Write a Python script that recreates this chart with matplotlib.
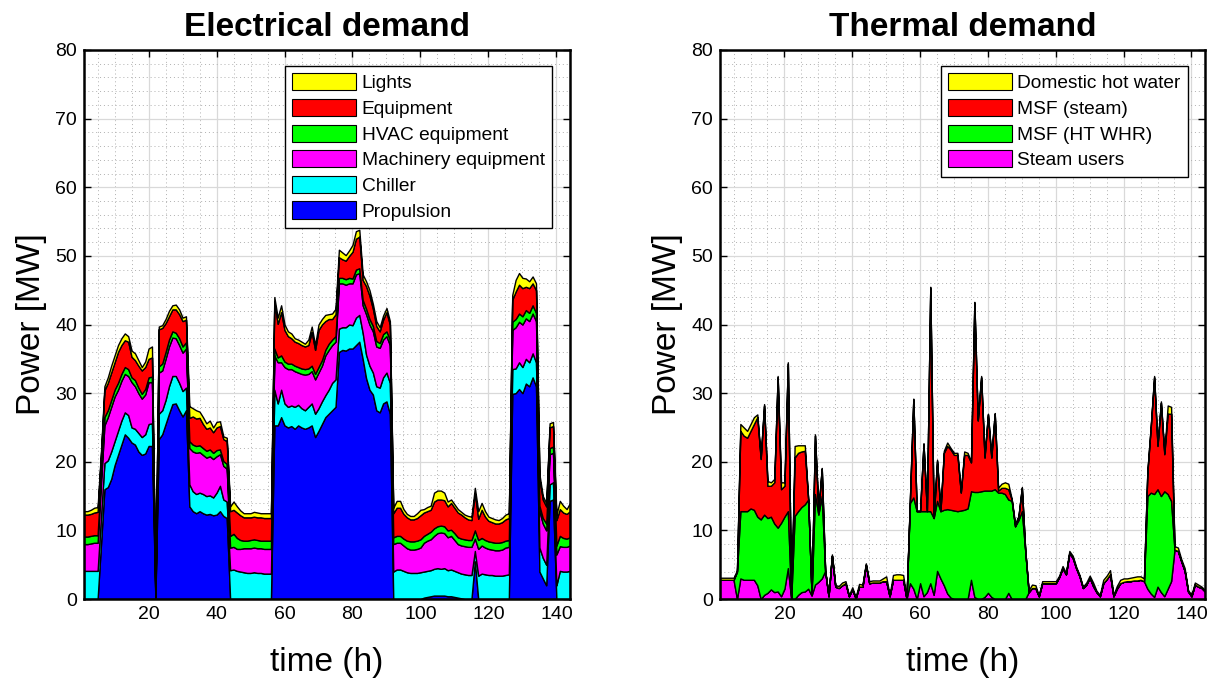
import numpy as np
import matplotlib
matplotlib.use('Agg')
import matplotlib.pyplot as plt
from matplotlib.ticker import MultipleLocator
from matplotlib.patches import Patch

plt.rcParams['font.family'] = ['Liberation Sans', 'DejaVu Sans']

hours = np.arange(1, 145)

# ---------------- Electrical demand: stacked levels (MW) ----------------
elec_propulsion_top = [
    0, 0, 0, 0, 0,
    8, 16, 16.3, 17.5, 19.5,  21, 22.5, 24, 23.5, 22.8,  22.5, 21.5, 21, 21.2, 22.3,
    22.3, 0, 23.3, 24, 25.5,  27, 28.4, 28.5, 27.5, 26.6,  27.5, 13.5, 12.8, 12.5, 12.8,
    12.5, 12.3, 12.4, 12.2, 12.3,  12.8, 12.1, 11.8, 0, 0,  0, 0, 0, 0, 0,
    0, 0, 0, 0, 0,  0, 25.3, 25.3, 26.5, 25.3,  25.0, 25.2, 24.8, 25.3, 25.0,
    24.8, 25.0, 25.3, 23.6, 24.5,  25.5, 26.5, 27.0, 27.5, 28,  36.0, 36.3, 36.2, 36.5, 36.5,
    37.0, 37.5, 35.0, 32.2, 30.5,  29.8, 27.5, 27.2, 28.5, 28.8,  27.0, 0, 0, 0, 0,
    0, 0, 0, 0, 0,  0.2, 0.3, 0.4, 0.5, 0.5,  0.5, 0.5, 0.4, 0.4, 0.3,
    0.2, 0.1, 0, 0, 0,  5.5, 0, 0, 0, 0,  0, 0, 0, 0, 0,
    0, 29.9, 30.0, 30.6, 30.0,  31.4, 31.0, 32.3, 31.0, 4.0,  3.0, 2.0, 14.3, 14.5, 0,
    0, 0, 0, 0]
elec_chiller_top = [
    4.1, 4.1, 4.1, 4.1, 4.1,
    12, 19.8, 20.2, 21.5, 23,  24.5, 26, 27.2, 26.8, 25.0,  24.8, 24.2, 23.6, 24, 25.5,
    25.6, 0.3, 27, 27.5, 29,  31, 32.5, 32.5, 31.5, 30.3,  30.8, 16.7, 15.7, 15.3, 15.5,
    15.3, 15.0, 15.1, 14.8, 15.5,  16.5, 14.5, 14.2, 4.2, 4.3,  4.1, 4.0, 3.9, 3.8, 3.8,
    3.9, 3.8, 3.8, 3.7, 3.7,  3.7, 30.5, 28.5, 30.5, 28.5,  28.0, 28.2, 28.0, 28.3, 27.8,
    27.5, 28.0, 28.5, 27.0, 27.8,  28.8, 29.7, 30.5, 31.5, 32,  39.4, 39.6, 39.6, 40.0, 39.9,
    41.0, 41.4, 38.8, 35.6, 34.0,  33.0, 31.0, 30.8, 32.3, 33.0,  31.5, 4.0, 4.3, 4.3, 4.1,
    3.9, 3.8, 3.8, 3.8, 3.9,  4.0, 4.1, 4.2, 4.4, 4.5,  4.4, 4.5, 4.2, 4.3, 4.1,
    3.9, 3.7, 3.6, 3.5, 3.5,  7.0, 3.4, 3.7, 3.6, 3.5,  3.5, 3.4, 3.4, 3.4, 3.5,
    3.6, 33.5, 33.6, 34.5, 33.8,  35.0, 34.5, 35.8, 34.5, 7.5,  6.0, 5.0, 16.7, 17.0, 2.0,
    4.1, 4.0, 4.0, 4.1]
elec_machinery_top = [
    8.0, 8.0, 8.1, 8.2, 8.2,
    17, 25.3, 26.5, 28, 29.5,  30.5, 31.8, 32.8, 32.5, 31.6,  31, 30, 29.2, 29.8, 31.6,
    31.6, 0.6, 33, 33.3, 35,  36.8, 38.1, 38, 37, 35.9,  36.5, 22.0, 21.5, 21.3, 21.4,
    21.0, 20.6, 20.8, 20.4, 20.8,  21.1, 19.4, 19.0, 7.5, 7.6,  7.3, 7.3, 7.4, 7.4, 7.4,
    7.5, 7.4, 7.4, 7.3, 7.3,  7.3, 35.5, 34.5, 34.5, 33.8,  33.5, 33.5, 33.2, 33.0, 32.8,
    32.7, 32.8, 33.2, 32.0, 33.0,  34.0, 35.5, 36.3, 37.0, 37.5,  46.0, 46.0, 45.8, 46.0, 46.0,
    47.3, 47.5, 42.8, 41.5, 40.0,  39.0, 36.8, 36.6, 37.8, 38.3,  37.0, 8.0, 8.2, 8.2, 7.8,
    7.4, 7.2, 7.2, 7.3, 7.5,  8.2, 8.5, 8.7, 9.2, 9.6,  9.7, 9.6, 9.0, 9.2, 8.6,
    8.0, 7.8, 7.7, 7.6, 7.6,  8.8, 7.3, 7.8, 7.5, 7.3,  7.2, 7.1, 7.1, 7.2, 7.5,
    7.6, 39.2, 39.6, 40.4, 40.0,  40.9, 40.5, 41.6, 40.5, 12.8,  11.0, 10.0, 21.1, 21.3, 6.5,
    7.7, 7.6, 7.6, 7.8]
elec_hvac_top = [
    9.1, 9.1, 9.2, 9.3, 9.3,
    18, 26.5, 27.5, 29, 30.5,  31.5, 32.8, 33.8, 33.5, 32.3,  31.9, 30.8, 29.9, 30.6, 32.3,
    32.4, 0.8, 33.9, 34.3, 36,  37.8, 39, 38.8, 38, 36.8,  37.4, 23.0, 22.5, 22.3, 22.4,
    22.0, 21.6, 21.8, 21.3, 21.7,  21.8, 20.1, 19.7, 9.2, 9.5,  8.9, 8.6, 8.5, 8.5, 8.6,
    8.7, 8.6, 8.5, 8.5, 8.5,  8.5, 36.5, 35.2, 35.5, 34.6,  34.3, 34.3, 34.0, 33.8, 33.6,
    33.5, 33.6, 34.0, 32.8, 33.8,  34.8, 36.3, 37.2, 37.8, 38.3,  46.8, 46.8, 46.6, 46.8, 46.7,
    48.0, 48.2, 43.6, 42.3, 40.8,  39.8, 37.6, 37.3, 38.6, 39.0,  37.8, 9.0, 9.2, 9.2, 8.8,
    8.5, 8.4, 8.4, 8.5, 8.7,  9.2, 9.5, 9.8, 10.3, 10.6,  10.7, 10.6, 10.0, 10.1, 9.6,
    9.0, 8.8, 8.7, 8.6, 8.6,  10.0, 8.6, 8.9, 8.6, 8.4,  8.3, 8.2, 8.2, 8.3, 8.5,
    8.6, 40.4, 40.8, 41.6, 41.2,  42.1, 41.7, 42.8, 41.7, 13.6,  11.8, 11.0, 22.0, 22.2, 7.8,
    9.2, 8.9, 8.8, 9.0]
elec_equipment_top = [
    12.3, 12.3, 12.4, 12.6, 12.7,
    21, 30.4, 31.5, 33, 34.5,  36, 37, 37.7, 37.5, 35.3,  34.8, 34, 33.3, 33.8, 35,
    35.2, 1.0, 39.3, 39.5, 40.2,  41.2, 42.2, 42.2, 41.5, 40.5,  40.7, 26.4, 26.6, 26.3, 26.4,
    25.5, 24.8, 25.0, 24.3, 25.0,  25.2, 23.3, 23.0, 12.8, 13.0,  12.6, 12.2, 11.9, 11.9, 11.9,
    12.0, 11.9, 11.9, 11.8, 11.8,  11.8, 43.3, 40.1, 41.8, 39.2,  38.3, 38.0, 37.5, 37.3, 37.0,
    36.8, 37.0, 38.9, 36.3, 39.2,  40.0, 40.5, 40.8, 40.8, 41.5,  49.8, 49.5, 49.3, 50.0, 50.6,
    52.5, 52.8, 46.5, 45.6, 44.2,  42.3, 39.8, 39.0, 40.7, 41.8,  40.0, 12.5, 13.3, 13.3, 12.4,
    11.9, 11.6, 11.6, 11.8, 12.2,  12.6, 12.8, 13.0, 14.2, 14.5,  14.5, 14.4, 13.5, 14.0, 13.3,
    12.6, 12.3, 11.9, 11.6, 11.5,  15.4, 11.7, 13.0, 12.0, 11.4,  11.2, 11.0, 11.0, 11.2, 11.6,
    11.8, 43.6, 44.8, 45.8, 45.3,  45.5, 45.3, 46.0, 45.0, 17.5,  14.5, 13.5, 25.0, 25.2, 11.5,
    13.1, 12.6, 12.4, 12.8]
elec_lights_top = [
    12.8, 12.8, 13.0, 13.3, 13.4,
    21.5, 31.0, 32.3, 34, 35.5,  37, 38, 38.7, 38.3, 36.2,  35.8, 34.8, 33.8, 34.6, 36.5,
    36.8, 1.2, 39.7, 39.9, 40.8,  42, 42.8, 42.9, 42.2, 41,  41.2, 28.1, 27.8, 27.5, 27.3,
    26.5, 25.6, 26.0, 25.0, 25.8,  25.9, 23.7, 23.5, 13.5, 14.2,  13.5, 12.9, 12.5, 12.5, 12.5,
    12.7, 12.6, 12.5, 12.5, 12.5,  12.5, 44.0, 41.0, 42.8, 40.0,  39.0, 38.7, 38.0, 37.8, 37.5,
    37.2, 37.8, 39.7, 37.0, 40.0,  40.8, 41.4, 41.5, 41.6, 42.3,  50.9, 50.5, 50.1, 50.8, 51.6,
    53.6, 53.8, 47.3, 46.3, 45.0,  43.0, 40.5, 39.6, 41.3, 42.4,  40.5, 13.3, 14.3, 14.3, 13.1,
    12.4, 12.1, 12.1, 12.5, 13.0,  13.1, 13.4, 13.6, 15.5, 15.8,  15.8, 15.5, 14.2, 14.5, 13.8,
    13.1, 12.7, 12.3, 12.1, 12.0,  16.2, 12.8, 14.0, 12.8, 12.0,  11.8, 11.6, 11.5, 11.8, 12.3,
    12.5, 44.3, 46.5, 47.5, 46.8,  46.7, 46.3, 47.0, 46.0, 18.2,  15.0, 14.0, 25.6, 25.8, 12.3,
    14.3, 13.6, 13.1, 14.0]

elec_labels = ['Propulsion', 'Chiller', 'Machinery equipment', 'HVAC equipment',
               'Equipment', 'Lights']

# ---------------- Thermal demand: stacked levels (MW) ----------------
th_steam_users_top = [
    2.8, 2.8, 2.8, 2.8, 2.8,
    0, 3.0, 2.8, 2.8, 2.8,  2.8, 2.0, 0, 0.6, 0.9,  1.4, 1.0, 1.1, 0.4, 1.5,
    4.5, 0, 0, 0.6, 1.0,  1.1, 1.5, 0.5, 2.1, 2.5,  3.0, 4.1, 0.4, 6.3, 1.8,
    1.6, 2.0, 2.3, 0.4, 1.4,  0.1, 1.8, 1.8, 5.0, 2.3,  2.4, 2.4, 2.4, 2.6, 2.6,
    0.4, 2.8, 2.8, 2.8, 2.8,  0, 2.3, 1.5, 0, 2.3,  0.4, 1.0, 2.3, 0.6, 4.1,
    3.0, 2.0, 0.8, 0.2, 0,  0, 0, 0, 0, 2.8,  0.3, 0, 0, 0.3, 0.9,
    0.3, 0, 0, 0, 0,  0.9, 0, 0, 0, 0,  0, 1.0, 1.6, 1.6, 0.4,
    2.3, 2.3, 2.3, 2.3, 2.3,  3.2, 4.5, 3.6, 6.7, 6.0,  4.5, 3.3, 1.6, 2.1, 3.1,
    1.9, 1.0, 0.4, 2.3, 2.9,  3.6, 0.4, 1.5, 2.3, 2.5,  2.6, 2.6, 2.7, 2.7, 2.8,
    2.6, 1.5, 0.8, 0.3, 1.8,  1.0, 0.4, 1.5, 2.6, 7.2,  7.0, 5.5, 4.1, 1.1, 0.4,
    2.1, 1.8, 1.6, 1.1]
th_msf_whr_top = [
    2.8, 2.8, 2.8, 2.8, 2.8,
    4.0, 12.8, 12.8, 12.8, 13.2,  13.0, 12.0, 11.6, 12.3, 11.8,  12.0, 11.0, 10.4, 11.1, 12.0,
    12.8, 0, 12.1, 12.8, 13.4,  13.8, 14.5, 0.6, 15.3, 12.3,  15.0, 4.1, 0.4, 6.3, 1.8,
    1.6, 2.0, 2.3, 0.4, 1.4,  0.1, 1.8, 1.8, 5.0, 2.3,  2.4, 2.4, 2.4, 2.6, 2.6,
    0.4, 2.8, 2.8, 2.8, 2.8,  0, 14.0, 14.8, 12.8, 12.8,  12.8, 12.8, 12.8, 11.8, 14.3,
    12.8, 13.0, 13.1, 13.0, 12.9,  12.8, 12.9, 13.0, 13.2, 15.7,  15.6, 15.6, 15.7, 15.8, 15.8,
    15.8, 16.0, 15.5, 15.5, 15.3,  14.5, 14.3, 10.6, 11.5, 12.8,  7.0, 1.0, 1.6, 1.6, 0.4,
    2.3, 2.3, 2.3, 2.3, 2.3,  3.2, 4.5, 3.6, 6.7, 6.0,  4.5, 3.3, 1.6, 2.1, 3.1,
    1.9, 1.0, 0.4, 2.3, 2.9,  3.6, 0.4, 1.5, 2.3, 2.5,  2.6, 2.6, 2.7, 2.7, 2.8,
    2.6, 15.0, 15.5, 15.3, 16.0,  15.0, 15.7, 15.3, 14.3, 7.2,  7.0, 5.5, 4.1, 1.1, 0.4,
    2.1, 1.8, 1.6, 1.1]
th_msf_steam_top = [
    2.8, 2.8, 2.8, 2.8, 2.8,
    4.0, 24.5, 23.8, 23.5, 24.5,  25.5, 26.5, 20.4, 28.2, 16.5,  16.5, 17.0, 32.3, 16.0, 16.5,
    34.3, 0, 20.6, 21.3, 21.5,  21.6, 14.5, 0.6, 23.8, 12.8,  19.0, 4.1, 0.4, 6.3, 1.8,
    1.6, 2.0, 2.3, 0.4, 1.4,  0.1, 1.8, 1.8, 5.0, 2.3,  2.4, 2.4, 2.4, 2.6, 2.6,
    0.4, 2.8, 2.8, 2.8, 2.8,  0, 14.5, 29.1, 12.8, 12.8,  22.6, 12.8, 45.4, 11.8, 20.1,
    12.8, 21.3, 22.3, 21.8, 21.0,  21.0, 15.5, 21.0, 21.0, 19.9,  43.2, 26.0, 32.3, 20.6, 26.9,
    20.6, 27.0, 15.8, 16.2, 16.2,  16.0, 14.5, 10.6, 12.0, 16.2,  7.0, 1.0, 1.6, 1.6, 0.4,
    2.3, 2.3, 2.3, 2.3, 2.3,  3.2, 4.5, 3.6, 6.7, 6.0,  4.5, 3.3, 1.6, 2.1, 3.1,
    1.9, 1.0, 0.4, 2.3, 2.9,  3.6, 0.4, 1.5, 2.3, 2.5,  2.6, 2.6, 2.7, 2.7, 2.8,
    2.6, 18.4, 25.0, 32.3, 22.3,  28.6, 21.1, 27.0, 27.0, 7.2,  7.0, 5.5, 4.1, 1.1, 0.4,
    2.1, 1.8, 1.6, 1.1]
th_dhw_top = [
    3.1, 3.1, 3.1, 3.1, 3.1,
    4.2, 25.5, 25.0, 24.5, 25.5,  26.5, 26.9, 20.6, 28.4, 17.2,  17.0, 17.5, 32.5, 17.0, 17.0,
    34.5, 0, 22.3, 22.4, 22.4,  22.4, 14.6, 0.6, 24.0, 12.9,  19.1, 4.2, 0.5, 6.5, 2.0,
    1.9, 2.4, 2.6, 0.6, 1.7,  0.3, 2.2, 2.1, 5.2, 2.6,  2.7, 2.7, 2.7, 3.0, 3.3,
    0.6, 3.5, 3.6, 3.6, 3.5,  0.1, 14.6, 29.2, 12.9, 12.9,  22.7, 12.9, 45.5, 11.9, 20.3,
    12.9, 21.6, 22.8, 22.0, 21.3,  21.3, 15.6, 21.5, 21.3, 20.0,  43.3, 26.1, 32.5, 20.8, 27.0,
    20.8, 27.1, 16.2, 16.8, 17.0,  16.8, 14.6, 11.0, 12.1, 16.3,  7.1, 1.3, 2.1, 2.0, 0.5,
    2.6, 2.6, 2.6, 2.6, 2.6,  3.4, 4.8, 3.8, 7.0, 6.3,  4.7, 3.5, 1.8, 2.4, 3.4,
    2.4, 1.2, 0.6, 2.8, 3.4,  4.2, 0.6, 1.9, 2.8, 3.0,  3.0, 3.1, 3.2, 3.3, 3.3,
    3.0, 18.6, 25.2, 32.5, 22.5,  28.8, 21.3, 28.2, 28.0, 7.7,  7.5, 5.8, 4.5, 1.3, 0.6,
    2.4, 2.1, 1.8, 1.3]

th_labels = ['Steam users', 'MSF (HT WHR)', 'MSF (steam)', 'Domestic hot water']

x_ticks = [20, 40, 60, 80, 100, 120, 140]
y_ticks = [0, 10, 20, 30, 40, 50, 60, 70, 80]

elec_colors = ['#0000ff', '#00ffff', '#ff00ff', '#00ff00', '#ff0000', '#ffff00']
th_colors = ['#ff00ff', '#00ff00', '#ff0000', '#ffff00']

fig = plt.figure(figsize=(12.15, 6.82), dpi=100)
ax1 = fig.add_axes([84 / 1215, 83 / 682, 486 / 1215, 549 / 682])
ax2 = fig.add_axes([720 / 1215, 83 / 682, 485 / 1215, 549 / 682])


def draw_stack(ax, levels, colors, labels):
    lower = np.zeros(len(hours))
    handles = []
    for lev, col, lab in zip(levels, colors, labels):
        upper = np.asarray(lev, dtype=float)
        ax.fill_between(hours, lower, upper, facecolor=col, edgecolor='black',
                        linewidth=1.0, zorder=2)
        handles.append(Patch(facecolor=col, edgecolor='black', linewidth=0.8, label=lab))
        lower = upper
    return handles[::-1]


def style(ax, title):
    ax.set_xlim(1, 144)
    ax.set_ylim(0, 80)
    ax.set_xticks(x_ticks)
    ax.set_yticks(y_ticks)
    ax.xaxis.set_minor_locator(MultipleLocator(5))
    ax.yaxis.set_minor_locator(MultipleLocator(2))
    ax.set_axisbelow(True)
    ax.grid(True, which='major', color='#d9d9d9', linewidth=0.9, zorder=0)
    ax.grid(True, which='minor', color='#b0b0b0', linestyle=(0, (1, 3)), linewidth=0.7, zorder=0)
    ax.tick_params(which='major', direction='in', length=5, width=1.0, top=True, right=True,
                   labelsize=14, pad=5, colors='black')
    ax.tick_params(which='minor', length=0, top=True, right=True)
    for sp in ax.spines.values():
        sp.set_linewidth(1.8)
        sp.set_zorder(5)
    ax.set_title(title, fontsize=24, fontweight='bold', pad=10)
    ax.set_xlabel('time (h)', fontsize=24, labelpad=17)
    ax.set_ylabel('Power [MW]', fontsize=24, labelpad=6)


def add_legend(ax, handles, anchor):
    leg = ax.legend(handles=handles, loc='upper right', bbox_to_anchor=anchor,
                    borderaxespad=0, fontsize=13.8, frameon=True, fancybox=False,
                    edgecolor='black', framealpha=1, handlelength=3.35, handleheight=1.0,
                    labelspacing=0.34, handletextpad=0.28, borderpad=0.38)
    leg.get_frame().set_linewidth(1.0)
    leg.set_zorder(6)


h1 = draw_stack(ax1, [elec_propulsion_top, elec_chiller_top, elec_machinery_top,
                      elec_hvac_top, elec_equipment_top, elec_lights_top],
                elec_colors, elec_labels)
style(ax1, 'Electrical demand')
add_legend(ax1, h1, (0.963, 0.971))

h2 = draw_stack(ax2, [th_steam_users_top, th_msf_whr_top, th_msf_steam_top, th_dhw_top],
                th_colors, th_labels)
style(ax2, 'Thermal demand')
add_legend(ax2, h2, (0.965, 0.971))

fig.savefig('out.png', dpi=100)
